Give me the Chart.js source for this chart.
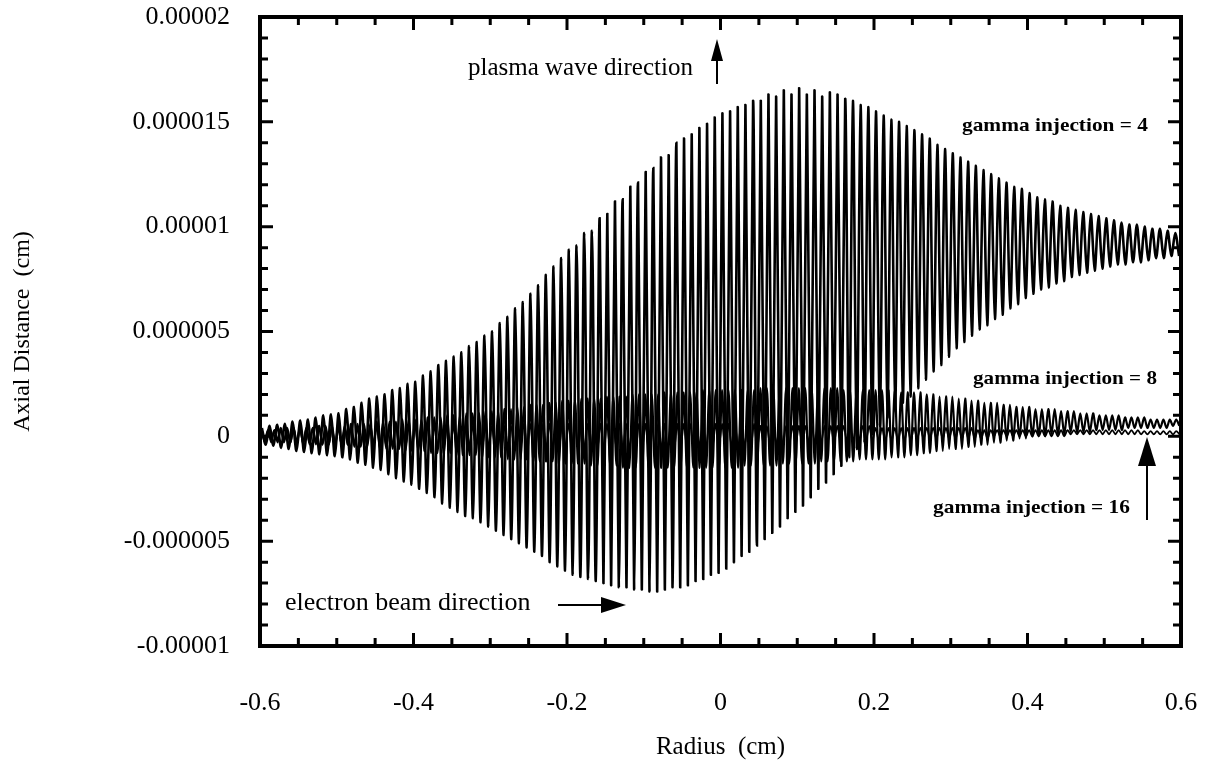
<!DOCTYPE html>
<html>
<head>
<meta charset="utf-8">
<script src="https://cdn.jsdelivr.net/npm/chart.js@4.4.1/dist/chart.umd.min.js"></script>
<style>
  html, body { margin: 0; padding: 0; background: #fff; }
</style>
</head>
<body>
<canvas id="chart" width="1217" height="765"></canvas>
<script>
// Axial distance, in units of 1e-6 cm.
// One peak and one trough per oscillation, left to right from radius -0.6.
const g4Period = 0.01;
const g4Peaks = [
  0.4, 0.5, 0.55, 0.6, 0.7,  0.75, 0.8, 0.9, 1.0, 1.05,  1.1, 1.3, 1.4, 1.6, 1.8,
  1.9, 2.0, 2.2, 2.3, 2.5,  2.6, 2.9, 3.1, 3.4, 3.6,  3.8, 4.0, 4.3, 4.5, 4.8,
  5.0, 5.4, 5.7, 6.1, 6.4,  6.8, 7.2, 7.7, 8.1, 8.5,  8.9, 9.1, 9.7, 9.8, 10.4,
  10.6, 11.2, 11.3, 11.9, 12.1,  12.6, 12.8, 13.3, 13.4, 14.0,  14.2, 14.4, 14.7, 14.9, 15.2,
  15.4, 15.5, 15.7, 15.8, 16.0,  16.0, 16.3, 16.2, 16.5, 16.3,  16.6, 16.3, 16.5, 16.2, 16.4,
  16.3, 16.1, 16.0, 15.8, 15.7,  15.5, 15.3, 15.1, 15.0, 14.8,  14.6, 14.4, 14.2, 13.9, 13.7,
  13.5, 13.3, 13.1, 12.9, 12.7,  12.5, 12.3, 12.1, 11.9, 11.8,  11.6, 11.4, 11.3, 11.2, 11.0,
  10.9, 10.8, 10.7, 10.6, 10.5,  10.4, 10.3, 10.2, 10.1, 10.1,  10.0, 9.9, 9.9, 9.8, 9.7
];
const g4Troughs = [
  -0.4, -0.45, -0.55, -0.6, -0.7,  -0.75, -0.8, -0.85, -0.9, -0.95,  -1.0, -1.1, -1.25, -1.35, -1.5,
  -1.6, -1.8, -2.0, -2.15, -2.3,  -2.5, -2.7, -2.9, -3.2, -3.4,  -3.6, -3.8, -3.9, -4.1, -4.3,
  -4.5, -4.7, -4.9, -5.1, -5.3,  -5.5, -5.7, -6.0, -6.2, -6.4,  -6.6, -6.7, -6.8, -6.9, -7.0,
  -7.1, -7.2, -7.2, -7.3, -7.3,  -7.4, -7.4, -7.3, -7.2, -7.2,  -7.1, -6.9, -6.8, -6.6, -6.5,
  -6.3, -6.0, -5.7, -5.5, -5.2,  -4.9, -4.6, -4.3, -3.9, -3.6,  -3.3, -2.9, -2.5, -2.2, -1.8,
  -1.4, -1.0, -0.6, -0.3, 0.1,  0.5, 0.9, 1.2, 1.6, 1.9,  2.3, 2.7, 3.1, 3.4, 3.8,
  4.2, 4.5, 4.8, 5.1, 5.3,  5.6, 5.8, 6.1, 6.3, 6.6,  6.8, 7.0, 7.1, 7.3, 7.4,
  7.6, 7.7, 7.8, 7.9, 8.0,  8.1, 8.2, 8.2, 8.3, 8.3,  8.4, 8.5, 8.5, 8.6, 8.6
];

const g8Period = 1.2 / 144;
const g8Peaks = [
  0.3, 0.3, 0.3, 0.4, 0.4, 0.4,  0.4, 0.4, 0.4, 0.5, 0.5, 0.5,  0.5, 0.5, 0.6, 0.6, 0.6, 0.6,
  0.7, 0.7, 0.7, 0.7, 0.8, 0.8,  0.8, 0.8, 0.9, 0.9, 0.9, 1.0,  1.0, 1.0, 1.1, 1.1, 1.1, 1.2,
  1.2, 1.2, 1.3, 1.3, 1.4, 1.4,  1.5, 1.5, 1.5, 1.6, 1.6, 1.7,  1.7, 1.7, 1.8, 1.8, 1.8, 1.8,
  1.9, 1.9, 1.9, 1.9, 2.0, 2.0,  2.0, 2.0, 2.0, 2.1, 2.1, 2.1,  2.1, 2.1, 2.1, 2.2, 2.2, 2.2,
  2.2, 2.2, 2.2, 2.2, 2.2, 2.2,  2.3, 2.3, 2.3, 2.3, 2.3, 2.3,  2.3, 2.3, 2.3, 2.3, 2.3, 2.3,
  2.3, 2.2, 2.2, 2.2, 2.2, 2.2,  2.2, 2.2, 2.2, 2.2, 2.1, 2.1,  2.1, 2.1, 2.0, 2.0, 1.9, 1.9,
  1.9, 1.8, 1.8, 1.7, 1.7, 1.6,  1.6, 1.6, 1.5, 1.5, 1.4, 1.4,  1.4, 1.3, 1.3, 1.3, 1.3, 1.2,
  1.2, 1.2, 1.1, 1.1, 1.1, 1.0,  1.0, 1.0, 1.0, 0.9, 0.9, 0.9,  0.9, 0.8, 0.8, 0.8, 0.8, 0.8
];
const g8Troughs = [
  -0.2, -0.2, -0.2, -0.2, -0.3, -0.3, -0.3, -0.3, -0.3, -0.4, -0.4, -0.4,
  -0.4, -0.4, -0.5, -0.5, -0.5, -0.5, -0.6, -0.6, -0.6, -0.6, -0.7, -0.7,
  -0.7, -0.7, -0.8, -0.8, -0.8, -0.8, -0.9, -0.9, -0.9, -0.9, -1.0, -1.0,
  -1.0, -1.0, -1.1, -1.1, -1.1, -1.1, -1.2, -1.2, -1.2, -1.2, -1.3, -1.3,
  -1.3, -1.3, -1.3, -1.4, -1.4, -1.4, -1.4, -1.4, -1.5, -1.5, -1.5, -1.5,
  -1.5, -1.5, -1.5, -1.5, -1.5, -1.5, -1.5, -1.5, -1.5, -1.5, -1.5, -1.5,
  -1.5, -1.5, -1.5, -1.4, -1.4, -1.4, -1.4, -1.4, -1.4, -1.3, -1.3, -1.3,
  -1.3, -1.3, -1.3, -1.2, -1.2, -1.2, -1.2, -1.2, -1.2, -1.1, -1.1, -1.1,
  -1.1, -1.1, -1.0, -1.0, -1.0, -0.9, -0.9, -0.8, -0.8, -0.7, -0.7, -0.6,
  -0.6, -0.6, -0.5, -0.5, -0.4, -0.4, -0.3, -0.3, -0.2, -0.2, -0.1, -0.1,
  0.0, 0.0, 0.0, 0.1, 0.1, 0.1, 0.2, 0.2, 0.2, 0.2, 0.3, 0.3,
  0.3, 0.3, 0.3, 0.4, 0.4, 0.4, 0.4, 0.4, 0.4, 0.4, 0.5, 0.5
];

const g16Period = 1.2 / 144;
const g16Peaks = [
  0.3, 0.3, 0.3, 0.3, 0.3, 0.4, 0.4, 0.4, 0.4, 0.4, 0.4, 0.4,
  0.4, 0.4, 0.4, 0.4, 0.4, 0.5, 0.5, 0.5, 0.5, 0.5, 0.5, 0.5,
  0.5, 0.5, 0.5, 0.5, 0.5, 0.5, 0.5, 0.5, 0.5, 0.5, 0.5, 0.5,
  0.5, 0.5, 0.5, 0.5, 0.6, 0.6, 0.6, 0.6, 0.6, 0.6, 0.6, 0.6,
  0.6, 0.6, 0.6, 0.6, 0.6, 0.6, 0.6, 0.6, 0.6, 0.6, 0.6, 0.6,
  0.6, 0.6, 0.6, 0.6, 0.6, 0.6, 0.6, 0.6, 0.6, 0.6, 0.6, 0.6,
  0.6, 0.6, 0.6, 0.6, 0.6, 0.6, 0.5, 0.5, 0.5, 0.5, 0.5, 0.5,
  0.5, 0.5, 0.5, 0.5, 0.5, 0.5, 0.5, 0.5, 0.5, 0.5, 0.5, 0.5,
  0.4, 0.4, 0.4, 0.4, 0.4, 0.4, 0.4, 0.4, 0.4, 0.4, 0.4, 0.4,
  0.4, 0.4, 0.4, 0.4, 0.3, 0.3, 0.3, 0.3, 0.3, 0.3, 0.3, 0.3,
  0.3, 0.3, 0.3, 0.3, 0.3, 0.3, 0.3, 0.3, 0.3, 0.3, 0.3, 0.3,
  0.3, 0.3, 0.3, 0.3, 0.3, 0.3, 0.25, 0.25, 0.25, 0.25, 0.25, 0.25
];
const g16Troughs = [
  -0.3, -0.3, -0.3, -0.3, -0.3, -0.3, -0.4, -0.4, -0.4, -0.4, -0.4, -0.4,
  -0.4, -0.4, -0.4, -0.4, -0.4, -0.4, -0.5, -0.5, -0.5, -0.5, -0.5, -0.5,
  -0.5, -0.5, -0.5, -0.5, -0.5, -0.5, -0.5, -0.5, -0.5, -0.5, -0.5, -0.5,
  -0.5, -0.5, -0.5, -0.5, -0.5, -0.5, -0.6, -0.6, -0.6, -0.6, -0.6, -0.6,
  -0.6, -0.6, -0.6, -0.6, -0.6, -0.6, -0.6, -0.6, -0.6, -0.6, -0.6, -0.6,
  -0.6, -0.6, -0.6, -0.6, -0.6, -0.6, -0.5, -0.5, -0.5, -0.5, -0.5, -0.5,
  -0.5, -0.5, -0.5, -0.5, -0.5, -0.5, -0.4, -0.4, -0.4, -0.4, -0.4, -0.4,
  -0.3, -0.3, -0.3, -0.3, -0.3, -0.3, -0.2, -0.2, -0.2, -0.2, -0.2, -0.2,
  -0.2, -0.2, -0.2, -0.2, -0.2, -0.2, -0.1, -0.1, -0.1, -0.1, -0.1, -0.1,
  -0.1, -0.1, -0.1, -0.1, -0.1, -0.1, 0.0, 0.0, 0.0, 0.0, 0.0, 0.0,
  0.0, 0.0, 0.0, 0.0, 0.0, 0.0, 0.1, 0.1, 0.1, 0.1, 0.1, 0.1,
  0.1, 0.1, 0.1, 0.1, 0.1, 0.1, 0.1, 0.1, 0.1, 0.1, 0.1, 0.1
];

const xTickValues = [-0.6, -0.4, -0.2, 0, 0.2, 0.4, 0.6];
const xTickLabels = ['-0.6', '-0.4', '-0.2', '0', '0.2', '0.4', '0.6'];
const yTickValues = [-0.00001, -0.000005, 0, 0.000005, 0.00001, 0.000015, 0.00002];
const yTickLabels = ['-0.00001', '-0.000005', '0', '0.000005', '0.00001', '0.000015', '0.00002'];

const serif = '"Liberation Serif", "Times New Roman", serif';

function wave(peaks, troughs, period) {
  const pts = [];
  for (let i = 0; i < peaks.length; i++) {
    pts.push({ x: -0.6 + (i + 0.25) * period, y: peaks[i] * 1e-6 });
    pts.push({ x: -0.6 + (i + 0.75) * period, y: troughs[i] * 1e-6 });
  }
  return pts;
}

function noPad(s) {
  s.paddingLeft = 0; s.paddingRight = 0; s.paddingTop = 0; s.paddingBottom = 0;
}

// boxed frame with inward ticks on all four sides
const framePlugin = {
  id: 'frame',
  afterDatasetsDraw(chart) {
    const { ctx, chartArea: a, scales: { x, y } } = chart;
    ctx.save();
    ctx.strokeStyle = '#000';
    ctx.lineWidth = 3;
    ctx.beginPath();
    for (let k = 0; k <= 24; k++) {
      const px = x.getPixelForValue(-0.6 + k * 0.05);
      const len = k % 4 === 0 ? 13 : 8;
      ctx.moveTo(px, a.bottom); ctx.lineTo(px, a.bottom - len);
      ctx.moveTo(px, a.top); ctx.lineTo(px, a.top + len);
    }
    for (let k = 0; k <= 30; k++) {
      const py = y.getPixelForValue(-0.00001 + k * 0.000001);
      const len = k % 5 === 0 ? 13 : 8;
      ctx.moveTo(a.left, py); ctx.lineTo(a.left + len, py);
      ctx.moveTo(a.right, py); ctx.lineTo(a.right - len, py);
    }
    ctx.stroke();
    ctx.lineWidth = 4;
    ctx.strokeRect(a.left, a.top, a.right - a.left, a.bottom - a.top);
    ctx.restore();
  }
};

function arrow(ctx, x1, y1, x2, y2, headLen, headHalf) {
  const ang = Math.atan2(y2 - y1, x2 - x1);
  const bx = x2 - headLen * Math.cos(ang), by = y2 - headLen * Math.sin(ang);
  ctx.beginPath();
  ctx.moveTo(x1, y1); ctx.lineTo(bx, by);
  ctx.stroke();
  ctx.beginPath();
  ctx.moveTo(x2, y2);
  ctx.lineTo(bx + headHalf * Math.sin(ang), by - headHalf * Math.cos(ang));
  ctx.lineTo(bx - headHalf * Math.sin(ang), by + headHalf * Math.cos(ang));
  ctx.closePath();
  ctx.fill();
}

// text squeezed/stretched horizontally to a given width
function wideText(ctx, text, x, y, width) {
  const sx = width / ctx.measureText(text).width;
  ctx.save();
  ctx.translate(x, y);
  ctx.scale(sx, 1);
  ctx.fillText(text, 0, 0);
  ctx.restore();
}

const notesPlugin = {
  id: 'notes',
  afterDraw(chart) {
    const ctx = chart.ctx;
    ctx.save();
    ctx.fillStyle = '#000';
    ctx.strokeStyle = '#000';
    ctx.lineWidth = 2;
    ctx.textBaseline = 'alphabetic';
    ctx.textAlign = 'left';
    ctx.font = '25px ' + serif;
    ctx.fillText('plasma wave direction', 468, 75);
    ctx.font = '26px ' + serif;
    ctx.fillText('electron beam direction', 285, 610);
    arrow(ctx, 717, 84, 717, 39, 22, 6);
    arrow(ctx, 558, 605, 626, 605, 25, 8);
    arrow(ctx, 1147, 520, 1147, 437, 29, 9);
    ctx.font = 'bold 19px ' + serif;
    wideText(ctx, 'gamma injection = 4', 962, 131, 186);
    wideText(ctx, 'gamma injection = 8', 973, 384, 184);
    wideText(ctx, 'gamma injection = 16', 933, 513, 197);
    ctx.restore();
  }
};

const ctx = document.getElementById('chart').getContext('2d');
new Chart(ctx, {
  type: 'line',
  data: {
    datasets: [
      { label: 'gamma injection = 4', data: wave(g4Peaks, g4Troughs, g4Period), borderColor: '#000', borderWidth: 2.6, pointRadius: 0, tension: 0.3 },
      { label: 'gamma injection = 8', data: wave(g8Peaks, g8Troughs, g8Period), borderColor: '#000', borderWidth: 2.2, pointRadius: 0, tension: 0.3 },
      { label: 'gamma injection = 16', data: wave(g16Peaks, g16Troughs, g16Period), borderColor: '#000', borderWidth: 1.8, pointRadius: 0, tension: 0.3 }
    ]
  },
  options: {
    responsive: false,
    animation: false,
    layout: { padding: { left: 0, top: 17, right: 36, bottom: 0 } },
    plugins: { legend: { display: false }, tooltip: { enabled: false } },
    scales: {
      x: {
        type: 'linear', min: -0.6, max: 0.6,
        afterBuildTicks: s => { s.ticks = xTickValues.map(v => ({ value: v })); },
        afterFit: s => { s.height = 119; noPad(s); },
        grid: { display: false, drawTicks: false },
        border: { display: false },
        ticks: {
          color: '#000', padding: 42, maxRotation: 0, autoSkip: false,
          font: { family: serif, size: 26 },
          callback: (v, i) => xTickLabels[i]
        },
        title: { display: true, text: 'Radius  (cm)', color: '#000', font: { family: serif, size: 25 }, padding: { top: 0, bottom: 3 } }
      },
      y: {
        type: 'linear', min: -0.00001, max: 0.00002,
        afterBuildTicks: s => { s.ticks = yTickValues.map(v => ({ value: v })); },
        afterFit: s => { s.width = 260; noPad(s); },
        grid: { display: false, drawTicks: false },
        border: { display: false },
        ticks: {
          color: '#000', padding: 30, autoSkip: false,
          font: { family: serif, size: 26 },
          callback: (v, i) => yTickLabels[i]
        },
        title: { display: true, text: 'Axial Distance  (cm)', color: '#000', font: { family: serif, size: 24 }, padding: { top: 8, bottom: 0 } }
      }
    }
  },
  plugins: [framePlugin, notesPlugin]
});
</script>
</body>
</html>
